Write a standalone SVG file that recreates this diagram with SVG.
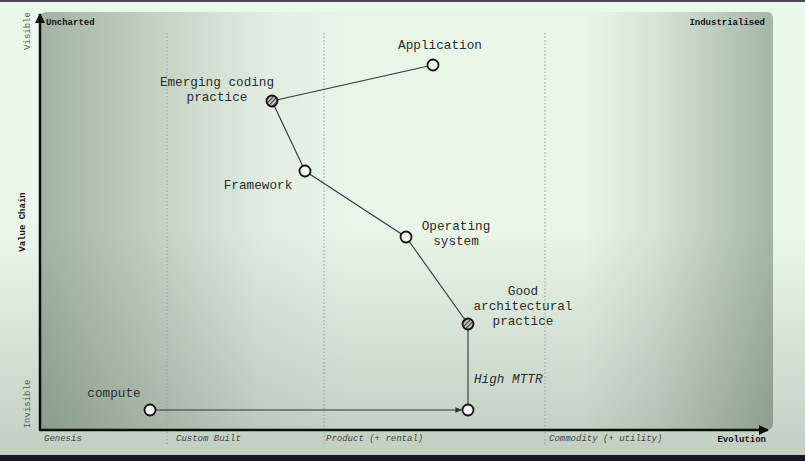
<svg xmlns="http://www.w3.org/2000/svg" width="805" height="461" viewBox="0 0 805 461">
  <defs>
    <style>
      .lbl { font-family: "Liberation Mono", "Courier New", monospace; font-size: 12.7px; fill: #2a2e2a; }
      .ax { font-family: "Liberation Mono", "Courier New", monospace; font-size: 9px; }
      .b { font-weight: bold; fill: #111; }
      .it { font-style: italic; fill: #444; }
      .gr { fill: #555; }
      .node { stroke: #111; stroke-width: 1.8; fill: #f2f7f2; }
      .hatch { stroke: #111; stroke-width: 1.8; fill: url(#hatch); }
      .link { stroke: #333; stroke-width: 1.1; fill: none; }
      .grid { stroke: #9a9f9a; stroke-width: 1; stroke-dasharray: 1.5 2; }
      .axis { stroke: #0a0f0a; stroke-width: 2.5; }
    </style>
    <linearGradient id="plotH" x1="0" y1="0" x2="1" y2="0">
      <stop offset="0" stop-color="#a3b3a3"/>
      <stop offset="0.17" stop-color="#c6d4c6"/>
      <stop offset="0.3" stop-color="#dfecdf"/>
      <stop offset="0.42" stop-color="#e8f6e8"/>
      <stop offset="0.74" stop-color="#e8f6e8"/>
      <stop offset="0.84" stop-color="#d6e4d6"/>
      <stop offset="1" stop-color="#a6b6a6"/>
    </linearGradient>
    <linearGradient id="vign" x1="0" y1="0" x2="0" y2="1">
      <stop offset="0" stop-color="#1e2a1e" stop-opacity="0"/>
      <stop offset="0.5" stop-color="#1e2a1e" stop-opacity="0"/>
      <stop offset="1" stop-color="#1e2a1e" stop-opacity="0.2"/>
    </linearGradient>
    <pattern id="hatch" width="3" height="3" patternUnits="userSpaceOnUse" patternTransform="rotate(45)">
      <rect width="3" height="3" fill="#e2e6e2"/>
      <line x1="0.7" y1="0" x2="0.7" y2="3" stroke="#333" stroke-width="1.3"/>
    </pattern>
    <marker id="arrowSmall" viewBox="0 0 10 10" refX="10" refY="5" markerWidth="6" markerHeight="6" orient="auto">
      <path d="M0,1 L10,5 L0,9 z" fill="#333"/>
    </marker>
    <marker id="arrowAxis" viewBox="0 0 10 10" refX="9" refY="5" markerWidth="4" markerHeight="4" orient="auto">
      <path d="M0,0 L10,5 L0,10 z" fill="#0a0f0a"/>
    </marker>
  </defs>

  <!-- background -->
  <rect x="0" y="0" width="805" height="461" fill="#eaf8ea"/>
  <rect x="40" y="12" width="733" height="418" rx="6" fill="url(#plotH)"/>
  <rect x="0" y="0" width="805" height="455" fill="url(#vign)"/>
  <rect x="0" y="0" width="805" height="2" fill="#4a4a4e"/>
  <rect x="0" y="455" width="805" height="6" fill="#1c1426"/>

  <!-- grid -->
  <g id="grid">
    <line class="grid" x1="167" y1="33" x2="167" y2="446"/>
    <line class="grid" x1="324" y1="33" x2="324" y2="446"/>
    <line class="grid" x1="545" y1="33" x2="545" y2="446"/>
  </g>

  <!-- axes -->
  <g id="axes">
    <line class="axis" x1="40" y1="430" x2="40" y2="14" marker-end="url(#arrowAxis)"/>
    <line class="axis" x1="39" y1="430" x2="768" y2="430" marker-end="url(#arrowAxis)"/>
    <text class="ax b" x="46" y="25">Uncharted</text>
    <text class="ax b" x="765" y="25" text-anchor="end">Industrialised</text>
    <text class="ax gr" transform="translate(30,31) rotate(-90)" text-anchor="middle">Visible</text>
    <text class="ax b" transform="translate(25,222) rotate(-90)" text-anchor="middle">Value Chain</text>
    <text class="ax gr" transform="translate(30,404) rotate(-90)" text-anchor="middle">Invisible</text>
    <text class="ax it" x="44" y="441">Genesis</text>
    <text class="ax it" x="176" y="441">Custom Built</text>
    <text class="ax it" x="326" y="441">Product (+ rental)</text>
    <text class="ax it" x="549" y="441">Commodity (+ utility)</text>
    <text class="ax b" x="766" y="442" text-anchor="end">Evolution</text>
  </g>

  <!-- connectors -->
  <g id="connectors">
    <line class="link" x1="433" y1="65" x2="272" y2="101"/>
    <line class="link" x1="272" y1="101" x2="305" y2="171"/>
    <line class="link" x1="305" y1="171" x2="406" y2="237"/>
    <line class="link" x1="406" y1="237" x2="468" y2="324"/>
    <line class="link" x1="468" y1="324" x2="468" y2="410"/>
    <line class="link" x1="150" y1="410" x2="462" y2="410" marker-end="url(#arrowSmall)"/>
  </g>

  <!-- nodes -->
  <g id="application">
    <circle class="node" cx="433" cy="65" r="5.5"/>
    <text class="lbl" x="440" y="49" text-anchor="middle">Application</text>
  </g>
  <g id="emerging-coding-practice">
    <circle class="hatch" cx="272" cy="101" r="5.5"/>
    <text class="lbl" x="217" y="86" text-anchor="middle">Emerging coding</text>
    <text class="lbl" x="217" y="101" text-anchor="middle">practice</text>
  </g>
  <g id="framework">
    <circle class="node" cx="305" cy="171" r="5.5"/>
    <text class="lbl" x="258" y="189" text-anchor="middle">Framework</text>
  </g>
  <g id="operating-system">
    <circle class="node" cx="406" cy="237" r="5.5"/>
    <text class="lbl" x="456" y="230" text-anchor="middle">Operating</text>
    <text class="lbl" x="456" y="245" text-anchor="middle">system</text>
  </g>
  <g id="good-architectural-practice">
    <circle class="hatch" cx="468" cy="324" r="5.5"/>
    <text class="lbl" x="523" y="295" text-anchor="middle">Good</text>
    <text class="lbl" x="523" y="310" text-anchor="middle">architectural</text>
    <text class="lbl" x="523" y="325" text-anchor="middle">practice</text>
  </g>
  <g id="high-mttr">
    <circle class="node" cx="468" cy="410" r="5.5"/>
    <text class="lbl" x="474" y="383" font-style="italic">High MTTR</text>
  </g>
  <g id="compute">
    <circle class="node" cx="150" cy="410" r="5.5"/>
    <text class="lbl" x="114" y="397" text-anchor="middle">compute</text>
  </g>
</svg>
